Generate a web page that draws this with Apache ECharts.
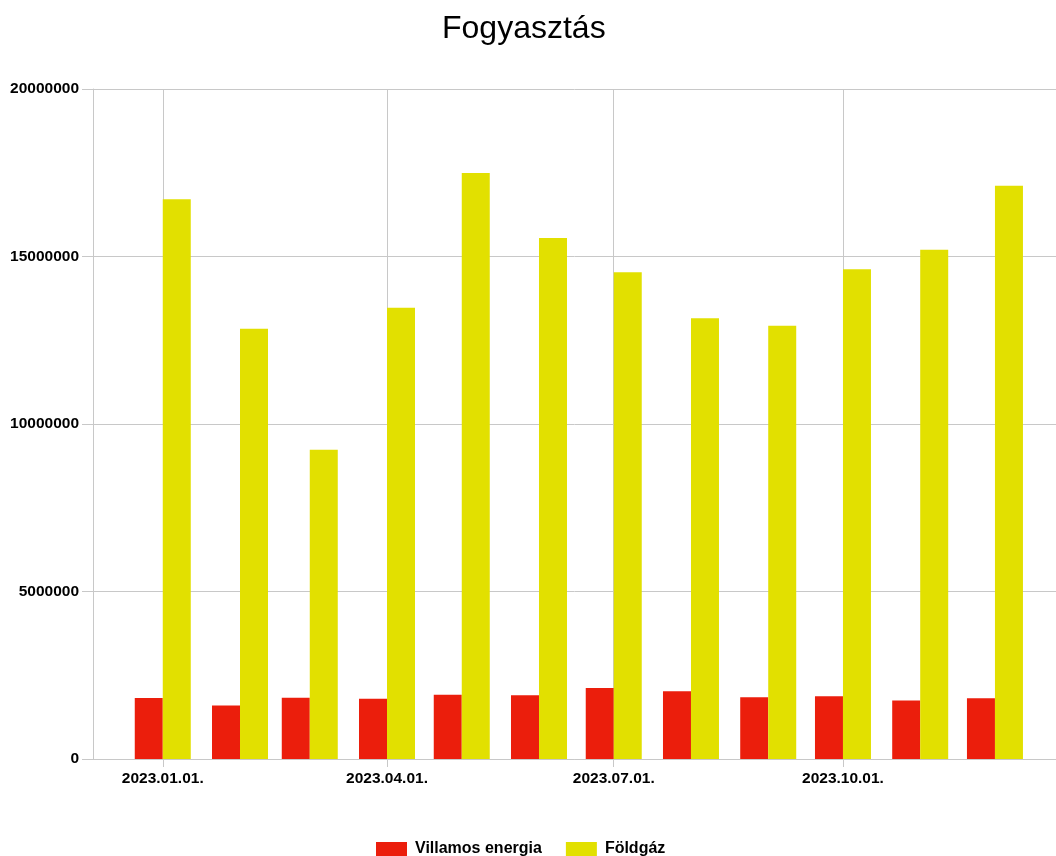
<!DOCTYPE html>
<html>
<head>
<meta charset="utf-8">
<script src="https://cdn.jsdelivr.net/npm/echarts@6/dist/echarts.min.js"></script>
<style>
  html, body { margin: 0; padding: 0; background: #fff; }
  #chart { width: 1056px; height: 856px; }
</style>
</head>
<body>
<div id="chart"></div>
<script>
var months = ['2023-01-01', '2023-02-01', '2023-03-01', '2023-04-01', '2023-05-01', '2023-06-01',
  '2023-07-01', '2023-08-01', '2023-09-01', '2023-10-01', '2023-11-01', '2023-12-01'];
var villamos = [1820000, 1600000, 1830000, 1800000, 1920000, 1900000,
  2120000, 2020000, 1840000, 1870000, 1750000, 1810000];
var foldgaz = [16710000, 12840000, 9230000, 13470000, 17490000, 15550000,
  14530000, 13160000, 12930000, 14620000, 15200000, 17110000];
var tickDates = ['2023-01-01', '2023-04-01', '2023-07-01', '2023-10-01'];
var axisStart = '2022-12-04';
var axisEnd = '2023-12-25 12:00';

// date string -> ms timestamp (local time)
function ts(s) {
  var p = s.split(/[- :]/);
  return new Date(+p[0], +p[1] - 1, +p[2], +(p[3] || 0), +(p[4] || 0)).getTime();
}
function pad(n) { return n < 10 ? '0' + n : '' + n; }

var tickValues = tickDates.map(ts);
var labelFont = { fontFamily: 'Liberation Sans', fontWeight: 'bold', fontSize: 15.5, color: '#000' };
var gridColor = '#c8c8c8';

var chart = echarts.init(document.getElementById('chart'), null, { renderer: 'canvas' });

chart.setOption({
  animation: false,
  title: {
    text: 'Fogyasztás',
    left: 442,
    top: 13,
    padding: 0,
    textStyle: { fontFamily: 'Liberation Sans', fontWeight: 'normal', fontSize: 32, color: '#000' }
  },
  legend: {
    data: ['Villamos energia', 'Földgáz'],
    left: 376,
    top: 841,
    padding: 0,
    itemWidth: 31,
    itemHeight: 14,
    itemGap: 24,
    icon: 'rect',
    textStyle: {
      fontFamily: 'Liberation Sans', fontWeight: 'bold', fontSize: 16, color: '#000',
      padding: [0, 0, 0, 3]
    }
  },
  grid: { left: 93, right: 0, top: 89, bottom: 97, containLabel: false },
  xAxis: {
    type: 'value',
    min: ts(axisStart),
    max: ts(axisEnd),
    axisLine: { onZero: false, lineStyle: { color: gridColor } },
    axisTick: { show: true, length: 8, customValues: tickValues, lineStyle: { color: gridColor } },
    splitLine: { show: true, lineStyle: { color: gridColor, width: 1 } },
    axisLabel: Object.assign({
      customValues: tickValues,
      margin: 12,
      formatter: function (v) {
        var d = new Date(v);
        return d.getFullYear() + '.' + pad(d.getMonth() + 1) + '.' + pad(d.getDate()) + '.';
      }
    }, labelFont)
  },
  yAxis: {
    type: 'value',
    min: 0,
    max: 20000000,
    interval: 5000000,
    axisLine: { show: true, lineStyle: { color: gridColor } },
    axisTick: { show: true, length: 11, lineStyle: { color: gridColor } },
    splitLine: { show: true, lineStyle: { color: gridColor, width: 1 } },
    axisLabel: Object.assign({
      margin: 14,
      formatter: function (v) { return String(v); }
    }, labelFont)
  },
  series: [
    {
      name: 'Villamos energia',
      type: 'bar',
      barWidth: 28,
      barGap: '0%',
      itemStyle: { color: '#eb1e0c' },
      data: months.map(function (m, i) { return [ts(m), villamos[i]]; })
    },
    {
      name: 'Földgáz',
      type: 'bar',
      barWidth: 28,
      barGap: '0%',
      itemStyle: { color: '#e2e000' },
      data: months.map(function (m, i) { return [ts(m), foldgaz[i]]; })
    }
  ]
});
</script>
</body>
</html>
